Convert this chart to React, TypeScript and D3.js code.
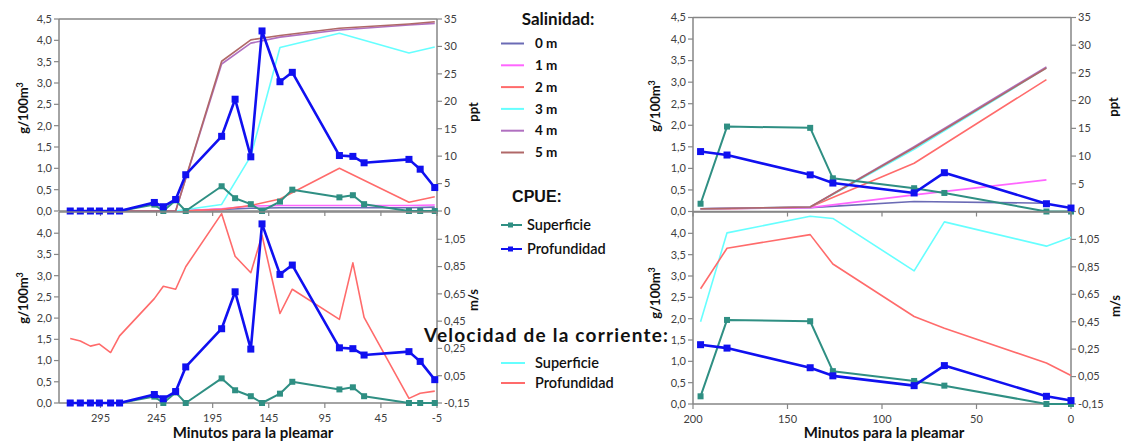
import * as d3 from "d3";

// ---- left panels (minutes before high tide) ----
const leftTimes = [322, 313, 304, 296, 286, 278, 247, 239, 228, 219, 187, 175, 161, 151, 135, 124, 82, 70, 60, 20, 10, -3];
const cpueSupLeft = [0, 0, 0, 0, 0, 0, 0.15, 0.0, 0.25, 0.0, 0.58, 0.3, 0.16, 0.0, 0.22, 0.5, 0.32, 0.37, 0.16, 0, 0, 0];
const cpueProfLeft = [0, 0, 0, 0, 0, 0, 0.2, 0.1, 0.27, 0.85, 1.75, 2.62, 1.27, 4.22, 3.03, 3.25, 1.3, 1.28, 1.13, 1.21, 0.98, 0.55];
const velProfLeft = [0.323, 0.304, 0.267, 0.282, 0.22, 0.342, 0.615, 0.706, 0.684, 0.849, 1.238, 0.926, 0.805, 1.079, 0.506, 0.684, 0.463, 0.877, 0.478, -0.116, -0.078, -0.063];

const salLeftTimes = [322, 228, 187, 161, 135, 82, 20, -3];
const salLeft0 = [0, 0, 0.3, 0.5, 0.6, 0.6, 0.6, 0.7];
const salLeft1 = [0, 0, 0.4, 0.9, 1.0, 1.0, 1.0, 1.1];
const salLeft2 = [0, 0, 0.3, 1.0, 2.2, 7.8, 1.6, 2.6];
const salLeft3 = [0, 0, 1.2, 10.0, 29.8, 32.4, 28.8, 29.9];
const salLeft4 = [0, 0, 26.8, 30.6, 31.7, 33.0, 33.9, 34.2];
const salLeft5 = [0, 0, 27.3, 31.2, 32.0, 33.3, 34.1, 34.5];

// ---- right panels ----
const rightTimes = [196, 182, 138, 126, 83, 67, 13, 0];
const cpueSupRight = [0.18, 1.97, 1.94, 0.77, 0.54, 0.43, 0, 0];
const cpueProfRight = [1.39, 1.31, 0.85, 0.66, 0.43, 0.9, 0.18, 0.08];
const velSupRight = [0.45, 1.098, 1.219, 1.203, 0.821, 1.178, 1.001, 1.066];
const velProfRight = [0.69, 0.986, 1.085, 0.871, 0.488, 0.403, 0.149, 0.058];

const salRightTimes = [196, 138, 83, 13];
const salRight0 = [0.5, 0.7, 1.8, 1.5];
const salRight1 = [0.5, 0.7, 3.0, 5.7];
const salRight2 = [0.4, 0.8, 8.7, 23.8];
const salRight3 = [0.5, 0.8, 11.2, 25.9];
const salRight4 = [0.5, 0.8, 11.7, 26.1];
const salRight5 = [0.5, 0.8, 11.5, 25.9];

const salLabels = ["0 m", "1 m", "2 m", "3 m", "4 m", "5 m"];
const salColors = ["#6b6bb5", "#ff66ff", "#ff6b6b", "#66ffff", "#b070c0", "#b06868"];

const xTicksLeft = [295, 245, 195, 145, 95, 45, -5];
const xTicksRight = [200, 150, 100, 50, 0];
const cpueTicks = [0, 0.5, 1, 1.5, 2, 2.5, 3, 3.5, 4, 4.5];
const cpueTicksBottom = [0, 0.5, 1, 1.5, 2, 2.5, 3, 3.5, 4];
const pptTicks = [0, 5, 10, 15, 20, 25, 30, 35];
const velTicks = [-0.15, 0.05, 0.25, 0.45, 0.65, 0.85, 1.05];

const SUP = "#2f8f83";
const PROF = "#1010f0";
const VSUP = "#66ffff";
const VPROF = "#ff6b6b";
const AXIS = "#868686";
const TXT = "#404040";

const c1 = (v: number) => v.toFixed(1).replace(".", ",");
const c2 = (v: number) => v.toFixed(2).replace(".", ",");
const c0 = (v: number) => String(v);

type Lin = d3.ScaleLinear<number, number>;

function Frame({ x, y, y2, yTicks, y2Ticks, yFmt, y2Fmt, xTicks, xLabels }: any) {
  const [x0, x1] = x.range();
  const [yb, yt] = y.range();
  return (
    <g>
      <line x1={x0} x2={x1} y1={yt} y2={yt} stroke={AXIS} strokeWidth={1.3} />
      <line x1={x0} x2={x0} y1={yt} y2={yb} stroke={AXIS} strokeWidth={1.5} />
      <line x1={x1} x2={x1} y1={yt} y2={yb} stroke={AXIS} strokeWidth={1.5} />
      <line x1={x0} x2={x1} y1={yb} y2={yb} stroke={AXIS} strokeWidth={1.5} />
      {yTicks.map((t: number) => (
        <g key={"l" + t}>
          <line x1={x0 - 5} x2={x0} y1={y(t)} y2={y(t)} stroke={AXIS} strokeWidth={1.2} />
          <text x={x0 - 7} y={y(t)} dy="0.35em" textAnchor="end" fontSize={11} fill={TXT}>{yFmt(t)}</text>
        </g>
      ))}
      {y2Ticks.map((t: number) => (
        <g key={"r" + t}>
          <line x1={x1} x2={x1 + 5} y1={y2(t)} y2={y2(t)} stroke={AXIS} strokeWidth={1.2} />
          <text x={x1 + 7} y={y2(t)} dy="0.35em" textAnchor="start" fontSize={11} fill={TXT}>{y2Fmt(t)}</text>
        </g>
      ))}
      {xTicks.map((t: number) => (
        <g key={"x" + t}>
          <line x1={x(t)} x2={x(t)} y1={yb} y2={yb + 5} stroke={AXIS} strokeWidth={1.2} />
          {xLabels && (
            <text x={x(t)} y={yb + 19} textAnchor="middle" fontSize={11} fill={TXT}>{c0(t)}</text>
          )}
        </g>
      ))}
    </g>
  );
}

function Series({ x, y, times, values, color, width, marker }: any) {
  const pts = times.map((t: number, i: number) => [t, values[i]] as [number, number]);
  const line = d3.line<[number, number]>().x((d) => x(d[0])).y((d) => y(d[1]));
  return (
    <g>
      <path d={line(pts) || ""} fill="none" stroke={color} strokeWidth={width} strokeLinejoin="round" />
      {marker > 0 &&
        pts.map((d: [number, number], i: number) => (
          <rect key={i} x={x(d[0]) - marker / 2} y={y(d[1]) - marker / 2} width={marker} height={marker} fill={color} />
        ))}
    </g>
  );
}

function YTitle({ x, y, label, sup }: any) {
  return (
    <text transform={`translate(${x},${y}) rotate(-90)`} textAnchor="middle" fontSize={13} fontWeight="bold" fill="#111">
      {label}
      {sup && <tspan dy={-5} fontSize={9}>{sup}</tspan>}
    </text>
  );
}

export default function App() {
  const xL = d3.scaleLinear().domain([332, -5]).range([59, 437]);
  const xR = d3.scaleLinear().domain([200, 0]).range([693, 1071]);

  const yTL: Lin = d3.scaleLinear().domain([0, 4.5]).range([211, 19]);
  const yTL2: Lin = d3.scaleLinear().domain([0, 35]).range([211, 19]);
  const yBL: Lin = d3.scaleLinear().domain([0, 4.5]).range([403, 212]);
  const yBL2: Lin = d3.scaleLinear().domain([-0.15, 1.25]).range([403, 212]);

  const yTR: Lin = d3.scaleLinear().domain([0, 4.5]).range([211.5, 17.5]);
  const yTR2: Lin = d3.scaleLinear().domain([0, 35]).range([211.5, 17.5]);
  const yBR: Lin = d3.scaleLinear().domain([0, 4.5]).range([404, 212]);
  const yBR2: Lin = d3.scaleLinear().domain([-0.15, 1.25]).range([404, 212]);

  const salL = [salLeft0, salLeft1, salLeft2, salLeft3, salLeft4, salLeft5];
  const salR = [salRight0, salRight1, salRight2, salRight3, salRight4, salRight5];

  const cpue = (x: Lin, y: Lin, times: number[], sup: number[], prof: number[]) => (
    <g>
      <Series x={x} y={y} times={times} values={sup} color={SUP} width={2} marker={6} />
      <Series x={x} y={y} times={times} values={prof} color={PROF} width={2.6} marker={7} />
    </g>
  );

  return (
    <svg
      width={1125}
      height={443}
      style={{ position: "absolute", left: 0, top: 0, background: "#fff" }}
      fontFamily="Lato, 'Open Sans', sans-serif"
    >
      {/* Left top: CPUE + salinity */}
      <Frame x={xL} y={yTL} y2={yTL2} yTicks={cpueTicks} y2Ticks={pptTicks} yFmt={c1} y2Fmt={c0} xTicks={xTicksLeft} xLabels={false} />
      {salL.map((vals, i) => (
        <Series key={i} x={xL} y={yTL2} times={salLeftTimes} values={vals} color={salColors[i]} width={1.6} marker={0} />
      ))}
      {cpue(xL, yTL, leftTimes, cpueSupLeft, cpueProfLeft)}

      {/* Left bottom: CPUE + current velocity */}
      <Frame x={xL} y={yBL} y2={yBL2} yTicks={cpueTicksBottom} y2Ticks={velTicks} yFmt={c1} y2Fmt={c2} xTicks={xTicksLeft} xLabels={true} />
      <Series x={xL} y={yBL2} times={leftTimes} values={velProfLeft} color={VPROF} width={1.6} marker={0} />
      {cpue(xL, yBL, leftTimes, cpueSupLeft, cpueProfLeft)}

      {/* Right top */}
      <Frame x={xR} y={yTR} y2={yTR2} yTicks={cpueTicks} y2Ticks={pptTicks} yFmt={c1} y2Fmt={c0} xTicks={xTicksRight} xLabels={false} />
      {salR.map((vals, i) => (
        <Series key={i} x={xR} y={yTR2} times={salRightTimes} values={vals} color={salColors[i]} width={1.6} marker={0} />
      ))}
      {cpue(xR, yTR, rightTimes, cpueSupRight, cpueProfRight)}

      {/* Right bottom */}
      <Frame x={xR} y={yBR} y2={yBR2} yTicks={cpueTicksBottom} y2Ticks={velTicks} yFmt={c1} y2Fmt={c2} xTicks={xTicksRight} xLabels={true} />
      <Series x={xR} y={yBR2} times={rightTimes} values={velSupRight} color={VSUP} width={1.6} marker={0} />
      <Series x={xR} y={yBR2} times={rightTimes} values={velProfRight} color={VPROF} width={1.6} marker={0} />
      {cpue(xR, yBR, rightTimes, cpueSupRight, cpueProfRight)}

      {/* axis titles */}
      <YTitle x={28} y={108} label="g/100m" sup="3" />
      <YTitle x={28} y={298} label="g/100m" sup="3" />
      <YTitle x={660} y={106} label="g/100m" sup="3" />
      <YTitle x={660} y={293} label="g/100m" sup="3" />
      <YTitle x={478} y={112} label="ppt" />
      <YTitle x={478} y={300} label="m/s" />
      <YTitle x={1118} y={107} label="ppt" />
      <YTitle x={1120} y={306} label="m/s" />
      <text x={253} y={438} textAnchor="middle" fontSize={15} fontWeight="bold" fill="#111">Minutos para la pleamar</text>
      <text x={884} y={438} textAnchor="middle" fontSize={15} fontWeight="bold" fill="#111">Minutos para la pleamar</text>

      {/* legend */}
      <text x={558} y={25} textAnchor="middle" fontSize={17} fontWeight="bold" fill="#111">Salinidad:</text>
      {salLabels.map((lab, i) => (
        <g key={lab}>
          <line x1={501} x2={524} y1={43.5 + i * 21.8} y2={43.5 + i * 21.8} stroke={salColors[i]} strokeWidth={2} />
          <text x={535} y={43.5 + i * 21.8} dy="0.35em" fontSize={13.5} fontWeight="bold" fill="#111">{lab}</text>
        </g>
      ))}
      <text x={537} y={202} textAnchor="middle" fontSize={16} fontWeight="bold" fill="#111" fontFamily="'Liberation Sans', Arial, sans-serif">CPUE:</text>
      {[
        { lab: "Superficie", c: SUP, yy: 225 },
        { lab: "Profundidad", c: PROF, yy: 249 },
      ].map((d) => (
        <g key={d.lab}>
          <line x1={501} x2={522} y1={d.yy} y2={d.yy} stroke={d.c} strokeWidth={2} />
          <rect x={508} y={d.yy - 2.5} width={5} height={5} fill={d.c} />
          <text x={527} y={d.yy} dy="0.35em" fontSize={14.5} fontWeight="600" fill="#111">{d.lab}</text>
        </g>
      ))}
      <text x={424} y={342} fontSize={19} fontWeight="bold" fill="#111" textLength={244} lengthAdjust="spacing">
        Velocidad de la corriente:
      </text>
      {[
        { lab: "Superficie", c: VSUP, yy: 363 },
        { lab: "Profundidad", c: VPROF, yy: 383 },
      ].map((d) => (
        <g key={d.lab}>
          <line x1={501} x2={525} y1={d.yy} y2={d.yy} stroke={d.c} strokeWidth={2} />
          <text x={535} y={d.yy} dy="0.35em" fontSize={14.5} fontWeight="600" fill="#111">{d.lab}</text>
        </g>
      ))}
    </svg>
  );
}
